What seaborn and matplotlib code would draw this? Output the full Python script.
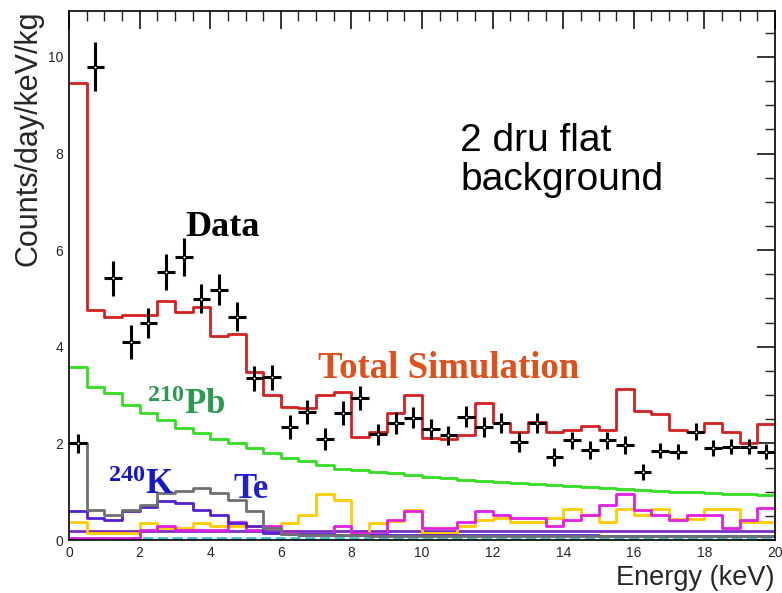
import numpy as np
import pandas as pd
import matplotlib
matplotlib.use("Agg")
import matplotlib.pyplot as plt
import seaborn as sns
from matplotlib.ticker import MultipleLocator

# 0.5 keV bins from 0 to 20 keV
bin_width = 0.5
edges = np.arange(0, 20 + bin_width, bin_width)
centers = edges[:-1] + bin_width / 2

data_rate = [2.0, 9.8, 5.42, 4.1, 4.5, 5.55, 5.86, 4.99, 5.18, 4.62,
             3.35, 3.37, 2.34, 2.65, 2.09, 2.63, 2.94, 2.19, 2.42, 2.53,
             2.3, 2.17, 2.55, 2.34, 2.42, 2.03, 2.42, 1.72, 2.06, 1.86,
             2.06, 1.97, 1.41, 1.85, 1.83, 2.24, 1.9, 1.93, 1.93, 1.83]
data_err = [0.2, 0.5, 0.36, 0.35, 0.31, 0.38, 0.4, 0.3, 0.32, 0.3,
            0.26, 0.26, 0.24, 0.24, 0.22, 0.24, 0.24, 0.22, 0.22, 0.22,
            0.2, 0.2, 0.22, 0.2, 0.2, 0.2, 0.2, 0.18, 0.18, 0.18,
            0.18, 0.18, 0.16, 0.16, 0.16, 0.18, 0.16, 0.16, 0.16, 0.16]

total_sim = [9.45, 4.76, 4.62, 4.66, 4.66, 4.95, 4.72, 4.83, 4.22, 4.27,
             3.48, 3.0, 2.75, 2.73, 3.0, 3.07, 2.13, 2.24, 2.63, 3.0,
             2.11, 2.09, 2.17, 2.84, 2.42, 2.24, 2.45, 2.24, 2.28, 2.36,
             2.28, 3.12, 2.66, 2.61, 2.28, 2.24, 2.42, 2.24, 2.0, 2.4]
pb210 = [3.58, 3.17, 3.04, 2.8, 2.62, 2.48, 2.31, 2.21, 2.09, 2.0,
         1.9, 1.8, 1.7, 1.64, 1.55, 1.48, 1.45, 1.41, 1.38, 1.34,
         1.31, 1.28, 1.25, 1.23, 1.2, 1.18, 1.16, 1.14, 1.11, 1.09,
         1.07, 1.05, 1.03, 1.02, 1.0, 0.99, 0.98, 0.96, 0.95, 0.94]
te_comp = [2.0, 0.62, 0.52, 0.62, 0.72, 0.97, 1.02, 1.07, 0.97, 0.83,
           0.59, 0.25, 0.12, 0.1, 0.1, 0.1, 0.1, 0.08, 0.08, 0.08,
           0.08, 0.08, 0.08, 0.08, 0.08, 0.08, 0.08, 0.08, 0.08, 0.08,
           0.08, 0.08, 0.08, 0.08, 0.08, 0.08, 0.08, 0.08, 0.08, 0.08]
k40_comp = [0.6, 0.45, 0.42, 0.59, 0.69, 0.81, 0.77, 0.62, 0.52, 0.35,
            0.29, 0.15, 0.12, 0.12, 0.12, 0.1, 0.1, 0.1, 0.1, 0.1,
            0.1, 0.1, 0.1, 0.1, 0.1, 0.1, 0.1, 0.1, 0.1, 0.1,
            0.08, 0.08, 0.08, 0.08, 0.08, 0.08, 0.08, 0.08, 0.08, 0.08]
yellow_comp = [0.38, 0.15, 0.15, 0.15, 0.36, 0.25, 0.25, 0.36, 0.3, 0.3,
               0.3, 0.25, 0.36, 0.52, 0.95, 0.83, 0.12, 0.36, 0.4, 0.62,
               0.15, 0.15, 0.3, 0.41, 0.45, 0.38, 0.38, 0.45, 0.64, 0.52,
               0.38, 0.64, 0.52, 0.64, 0.43, 0.43, 0.64, 0.64, 0.38, 0.38]
magenta_comp = [0.05, 0.05, 0.05, 0.05, 0.2, 0.3, 0.2, 0.2, 0.2, 0.38,
                0.2, 0.3, 0.15, 0.1, 0.1, 0.3, 0.15, 0.12, 0.41, 0.59,
                0.25, 0.25, 0.38, 0.59, 0.52, 0.45, 0.45, 0.3, 0.41, 0.52,
                0.72, 0.95, 0.62, 0.52, 0.41, 0.52, 0.52, 0.25, 0.41, 0.66]
purple_comp = [0.18] * 40
cyan_comp = [0.05] * 40

sns.set_theme(style="white")
plt.rcParams['font.family'] = ['Liberation Sans', 'DejaVu Sans']
plt.rcParams['mathtext.fontset'] = 'custom'
plt.rcParams['mathtext.rm'] = 'Liberation Serif:bold'
plt.rcParams['mathtext.it'] = 'Liberation Serif:bold'
plt.rcParams['mathtext.bf'] = 'Liberation Serif:bold'

fig = plt.figure(figsize=(7.82, 5.93), dpi=100)
ax = fig.add_axes([69 / 782, 1 - 540 / 593, 706 / 782, 529 / 593])

components = [
    (cyan_comp, "#40c0c8", "--"),
    (purple_comp, "#7a30c0", "-"),
    (yellow_comp, "#ffcc00", "-"),
    (magenta_comp, "#e020e0", "-"),
    (k40_comp, "#5520d0", "-"),
    (te_comp, "#707070", "-"),
    (pb210, "#33dd22", "-"),
    (total_sim, "#d42020", "-"),
]
for vals, col, ls in components:
    df = pd.DataFrame({"energy": centers, "rate": vals})
    sns.histplot(data=df, x="energy", weights="rate", binwidth=bin_width,
                 binrange=(0, 20), element="step", fill=False, color=col,
                 linewidth=2, linestyle=ls, ax=ax)

ax.errorbar(centers, data_rate, yerr=data_err, xerr=bin_width / 2,
            fmt='o', ms=2.5, mfc='white', mec='black', color='black',
            elinewidth=2.2, capsize=0, zorder=5)

ax.set_xlim(0, 20)
ax.set_ylim(0, 10.95)
ax.xaxis.set_major_locator(MultipleLocator(2))
ax.xaxis.set_minor_locator(MultipleLocator(0.5))
ax.yaxis.set_major_locator(MultipleLocator(2))
ax.yaxis.set_minor_locator(MultipleLocator(0.5))
ax.tick_params(which='both', direction='in', top=True, right=True,
               labelsize=10, pad=4)
ax.tick_params(which='major', length=13, width=1.3)
ax.tick_params(which='minor', length=7, width=1)
for sp in ax.spines.values():
    sp.set_linewidth(1.2)
    sp.set_color('black')

ax.set_ylabel("Counts/day/keV/kg", fontsize=22, loc='top', labelpad=3)
ax.set_xlabel("Energy (keV)", fontsize=19.5, loc='right', labelpad=4)

serif = ['Liberation Serif', 'DejaVu Serif']
ax.text(3.3, 6.3, "Data", fontsize=26, fontweight='bold', family=serif,
        color='black')
ax.text(7.05, 3.35, "Total Simulation", fontsize=26.5, fontweight='bold',
        family=serif, color='#e0501c')
ax.text(2.2, 2.6, r"$^{210}$Pb", fontsize=25, fontweight='bold',
        family=serif, color='#2a9a50')
ax.text(1.1, 0.95, r"$^{240}$K", fontsize=25, fontweight='bold',
        family=serif, color='#1515cc')
ax.text(4.65, 0.87, "Te", fontsize=25, fontweight='bold', family=serif,
        color='#2020cc')
ax.text(11.08, 7.25, "2 dru flat\nbackground", fontsize=28,
        color='black', linespacing=1.1)

fig.savefig("out.png", dpi=100)
